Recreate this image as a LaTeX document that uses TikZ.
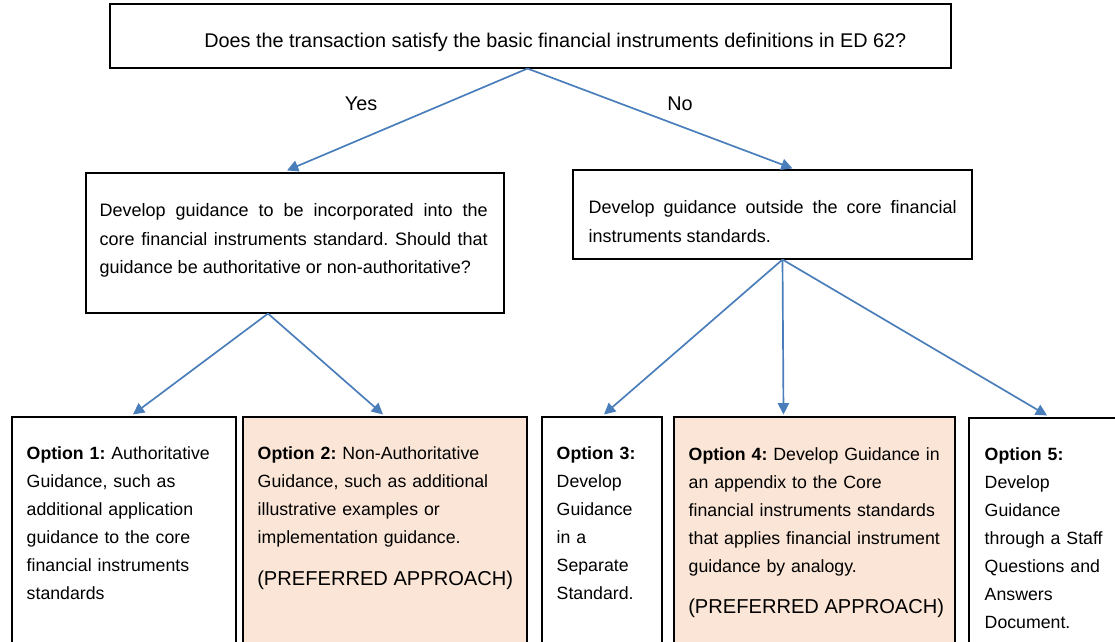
\documentclass[tikz,border=0pt]{standalone}
\usepackage{fontspec}
\setmainfont{Liberation Sans}
\usepackage{tikz}
\usetikzlibrary{arrows.meta, positioning, calc, fit}

\definecolor{arrowblue}{HTML}{4A7EBB}
\definecolor{peach}{HTML}{FBE5D6}
\frenchspacing

\begin{document}
\begin{tikzpicture}[
    x=0.025cm, y=-0.025cm,
    box/.style={draw, line width=0.8pt, inner sep=0pt},
    txt/.style={inner sep=0pt, anchor=north west, align=left, text width=8cm, font=\fontsize{12.6}{19.9}\selectfont},
    jtxt/.style={inner sep=0pt, anchor=north west, align=justify, font=\fontsize{12.8}{20.2}\selectfont},
    preftxt/.style={inner sep=0pt, anchor=base west, font=\fontsize{14.3}{17}\selectfont},
    arrowstyle/.style={-{Triangle[length=8pt, width=8pt]}, draw=arrowblue, fill=arrowblue, line width=1.2pt},
]
    \useasboundingbox (0,0) rectangle (1115,642);
    \clip (0,0) rectangle (1115,642);

    % Question box
    \node[box, fit={(110,4) (951,68)}] (qbox) {};
    \node[inner sep=0pt, anchor=base west, font=\fontsize{14.1}{16}\selectfont] (qtext) at (204,48)
        {Does the transaction satisfy the basic financial instruments definitions in ED 62?};

    % Second level boxes
    \node[box, fit={(86,173) (504,313)}] (yesbox) {};
    \node[jtxt, text width=388*0.025cm] (yestext) at ([shift={(14,31)}]yesbox.north west)
        {Develop guidance to be incorporated into the\linebreak
         core financial instruments standard. Should that\linebreak
         guidance be authoritative or non-authoritative?};

    \node[box, fit={(573,170) (972,259)}] (nobox) {};
    \node[jtxt, text width=368*0.025cm] (notext) at ([shift={(16,31)}]nobox.north west)
        {Develop guidance outside the core financial\linebreak
         instruments standards.};

    % Yes / No labels
    \node[font=\fontsize{14.1}{16}\selectfont] (yeslabel) at (361,104) {Yes};
    \node[font=\fontsize{14.1}{16}\selectfont] (nolabel) at (680,104) {No};

    % Option boxes (run off the bottom edge)
    \node[box, fit={(12,417) (236,680)}] (opt1) {};
    \node[box, fill=peach, fit={(243,417) (527,680)}] (opt2) {};
    \node[box, fit={(542,417) (662,680)}] (opt3) {};
    \node[box, fill=peach, fit={(674,417) (955,680)}] (opt4) {};
    \node[box, fit={(969,418) (1125,680)}] (opt5) {};

    \node[txt] (opt1text) at ([shift={(15,30)}]opt1.north west)
        {\textbf{Option 1:} Authoritative\\ Guidance, such as\\ additional application\\
         guidance to the core\\ financial instruments\\ standards};
    \node[txt] (opt2text) at ([shift={(15,30)}]opt2.north west)
        {\textbf{Option 2:} Non-Authoritative\\ Guidance, such as additional\\
         illustrative examples or\\ implementation guidance.};
    \node[preftxt] (opt2pref) at (257,585) {(PREFERRED APPROACH)};
    \node[txt] (opt3text) at ([shift={(15,30)}]opt3.north west)
        {\textbf{Option 3:}\\ Develop\\ Guidance\\ in a\\ Separate\\ Standard.};
    \node[txt] (opt4text) at ([shift={(15,31)}]opt4.north west)
        {\textbf{Option 4:} Develop Guidance in\\ an appendix to the Core\\
         financial instruments standards\\ that applies financial instrument\\
         guidance by analogy.};
    \node[preftxt] (opt4pref) at (688,613) {(PREFERRED APPROACH)};
    \node[txt] (opt5text) at ([shift={(16,30)}]opt5.north west)
        {\textbf{Option 5:}\\ Develop\\ Guidance\\ through a Staff\\ Questions and\\
         Answers\\ Document.};

    % Arrows
    \draw[arrowstyle] ($(qbox.south)+(-3,0)$) -- ($(yesbox.north)+(-8,-2)$);
    \draw[arrowstyle] ($(qbox.south)+(-3,0)$) -- ($(nobox.north)+(20,-1)$);
    \draw[arrowstyle] ($(yesbox.south)+(-27,0)$) -- ($(opt1.north)+(9,-2)$);
    \draw[arrowstyle] ($(yesbox.south)+(-27,0)$) -- ($(opt2.north)+(-2,-2)$);
    \draw[arrowstyle] ($(nobox.south)+(10,0)$) -- ($(opt3.north)+(2,-2)$);
    \draw[arrowstyle] ($(nobox.south)+(10,0)$) -- ($(opt4.north)+(-31,-2)$);
    \draw[arrowstyle] ($(nobox.south)+(10,0)$) -- ($(opt5.north)+(0,-2)$);
\end{tikzpicture}
\end{document}
